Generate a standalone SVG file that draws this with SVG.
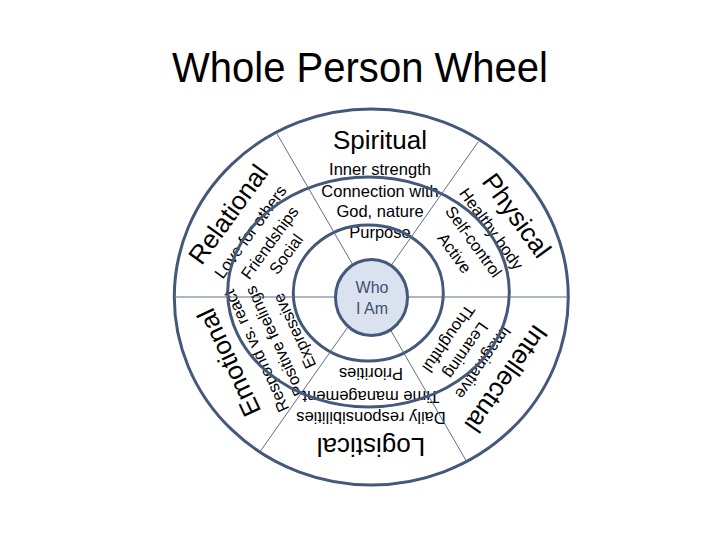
<svg xmlns="http://www.w3.org/2000/svg" width="720" height="540" viewBox="0 0 720 540">
<style>
text{font-family:"Liberation Sans",Arial,sans-serif;fill:#000}
.t{font-size:26px;text-anchor:middle;dominant-baseline:central}
.i{font-size:16.5px;text-anchor:middle;dominant-baseline:central}
.ring{fill:none;stroke:#44587a;stroke-width:3}
.spoke{stroke:#5b6f8e;stroke-width:1;fill:none}
.who{font-size:16px;text-anchor:middle;dominant-baseline:central;fill:#3d5070}
</style>
<rect width="720" height="540" fill="#fff"/>
<text id="title" x="360" y="82" font-size="42" text-anchor="middle" textLength="376" lengthAdjust="spacingAndGlyphs">Whole Person Wheel</text>

<g id="spiritual" transform="translate(372,297)">
<text class="t" x="8" y="-157">Spiritual</text>
<text class="i" x="8" y="-128">Inner strength</text>
<text class="i" x="8" y="-106.5">Connection with</text>
<text class="i" x="8" y="-86">God, nature</text>
<text class="i" x="8" y="-65">Purpose</text>
</g>
<g id="physical" transform="translate(372,297) rotate(54)">
<text class="t" x="19" y="-165">Physical</text>
<text class="i" x="15" y="-137">Healthy body</text>
<text class="i" x="15" y="-115">Self-control</text>
<text class="i" x="13" y="-93">Active</text>
</g>
<g id="intellectual" transform="translate(372,297) rotate(125)">
<text class="t" x="-10" y="-157">Intellectual</text>
<text class="i" x="-10" y="-129">Imaginative</text>
<text class="i" x="-10" y="-108">Learning</text>
<text class="i" x="-10" y="-87">Thoughtful</text>
</g>
<g id="logistical" transform="translate(372,297) rotate(180)">
<text class="t" x="1" y="-150">Logistical</text>
<text class="i" x="1" y="-121">Daily responsibilities</text>
<text class="i" x="1" y="-99.5">Time management</text>
<text class="i" x="1" y="-76.5">Priorities</text>
</g>
<g id="emotional" transform="translate(372,297) rotate(-115)">
<text class="t" x="1" y="-157.5">Emotional</text>
<text class="i" x="0" y="-128">Respond vs. react</text>
<text class="i" x="1" y="-107">Positive feelings</text>
<text class="i" x="2" y="-85">Expressive</text>
</g>
<g id="relational" transform="translate(372,297) rotate(-54)">
<text class="t" x="-17.6" y="-165">Relational</text>
<text class="i" x="-18.7" y="-137">Love for others</text>
<text class="i" x="-16.2" y="-115">Friendships</text>
<text class="i" x="-15.8" y="-95">Social</text>
</g>

<g id="rings">
<ellipse class="ring" cx="371.3" cy="297" rx="197" ry="188"/>
<ellipse class="ring" cx="368.5" cy="292" rx="140.8" ry="115"/>
<ellipse class="ring" cx="368.3" cy="293" rx="75" ry="68"/>
</g>
<g id="connectors">
<line class="spoke" x1="174.3" y1="297" x2="568.3" y2="297"/>
<line class="spoke" x1="276.7" y1="133.3" x2="466.7" y2="461.7"/>
<line class="spoke" x1="478.3" y1="141.7" x2="260" y2="451.7"/>
</g>
<g id="who">
<ellipse cx="371.5" cy="297.5" rx="36" ry="38" fill="#dbe2ef" stroke="#44587a" stroke-width="3"/>
<text class="who" x="372" y="287">Who</text>
<text class="who" x="372" y="308.5">I Am</text>
</g>
</svg>
